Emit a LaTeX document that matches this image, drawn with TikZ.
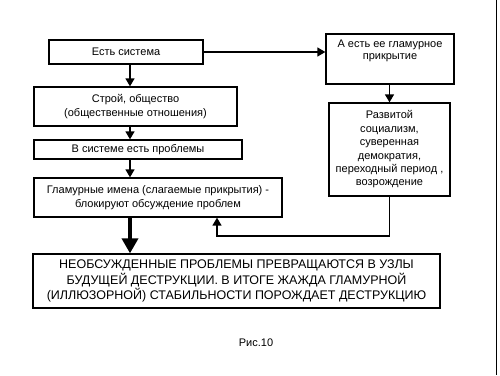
\documentclass[tikz,border=0pt]{standalone}
\usepackage{fontspec}
\setmainfont{Liberation Sans}
\usetikzlibrary{arrows.meta}
\begin{document}
\begin{tikzpicture}[x=1pt,y=-1pt,
  box/.style={draw=black,line width=1.3pt,fill=white,inner sep=0pt,align=center,
    font=\fontsize{11}{13.4}\selectfont},
  txt/.style={inner sep=0pt,align=center,font=\fontsize{11}{12.5}\selectfont},
  arr/.style={line width=1.4pt,-{Triangle[length=8pt,width=9pt]}},
  bigarr/.style={line width=3.6pt,-{Triangle[length=15pt,width=16pt]}}]
\useasboundingbox (0,0) rectangle (500,375);
\fill[white] (0,0) rectangle (500,375);
\draw[line width=1.5pt] (496.5,0) -- (496.5,375);
\coordinate (colx) at (130,0);
\coordinate (gin) at (217,236);
\node[box,minimum width=154pt,minimum height=24pt] (b1) at (126,52) {Есть система};
\node[box,minimum width=128pt,minimum height=50pt] (A) at (390,59) {};
\node[txt] (At) at (390,51) {А есть ее гламурное\\прикрытие};
\node[box,minimum width=203pt,minimum height=39pt] (b2) at (135.5,106.5) {Строй, общество\\(общественные отношения)};
\node[box,minimum width=208pt,minimum height=19pt] (b3) at (138,149.5) {В системе есть проблемы};
\node[box,minimum width=248pt,minimum height=39pt] (G) at (158,197.5) {Гламурные имена (слагаемые прикрытия) -\\блокируют обсуждение проблем};
\node[box,minimum width=121pt,minimum height=93pt] (R) at (389.5,149.5) {Развитой\\социализм,\\суверенная\\демократия,\\переходный период ,\\возрождение};
\node[box,minimum width=407pt,minimum height=54pt,font=\fontsize{12.5}{15.5}\selectfont] (big) at (236.5,281) {НЕОБСУЖДЕННЫЕ ПРОБЛЕМЫ ПРЕВРАЩАЮТСЯ В УЗЛЫ\\БУДУЩЕЙ ДЕСТРУКЦИИ. В ИТОГЕ ЖАЖДА ГЛАМУРНОЙ\\(ИЛЛЮЗОРНОЙ) СТАБИЛЬНОСТИ ПОРОЖДАЕТ ДЕСТРУКЦИЮ};
\node[txt,font=\fontsize{11}{13}\selectfont] (cap) at (256,343) {Рис.10};
\draw[arr] (b1.south -| colx) -- (b2.north -| colx);
\draw[arr] (b2.south -| colx) -- (b3.north -| colx);
\draw[arr] (b3.south -| colx) -- (G.north -| colx);
\draw[bigarr] (G.south -| colx) -- (big.north -| colx);
\draw[arr] (b1.east) -- (b1.east -| A.west);
\draw[arr] (R.north |- A.south) -- (R.north);
\draw[arr] (R.south) |- (gin) -- (gin |- G.south);
\end{tikzpicture}
\end{document}
